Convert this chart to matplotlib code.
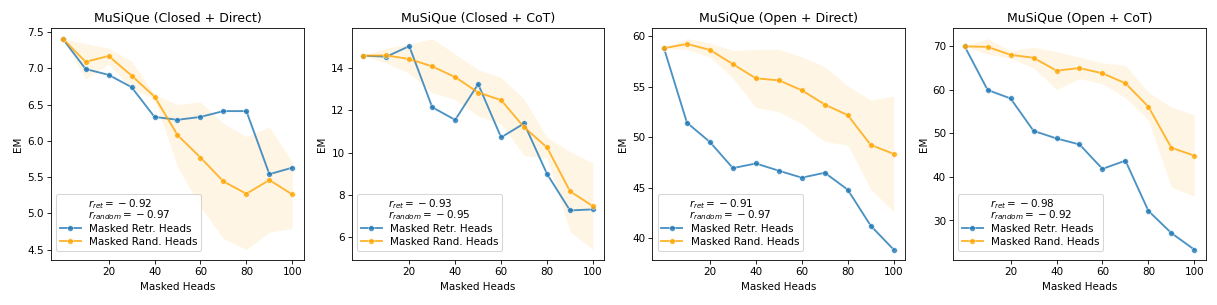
import matplotlib
matplotlib.use("Agg")
import matplotlib.pyplot as plt
import numpy as np

masked_heads = [0, 10, 20, 30, 40, 50, 60, 70, 80, 90, 100]

titles = ["MuSiQue (Closed + Direct)", "MuSiQue (Closed + CoT)",
          "MuSiQue (Open + Direct)", "MuSiQue (Open + CoT)"]

# Panel 1: Closed + Direct
cd_retr = [7.41, 6.99, 6.91, 6.74, 6.33, 6.29, 6.33, 6.41, 6.41, 5.54, 5.63]
cd_rand = [7.41, 7.09, 7.17, 6.90, 6.61, 6.08, 5.77, 5.44, 5.27, 5.46, 5.26]
cd_rand_hi = [7.41, 7.34, 7.28, 7.10, 6.64, 6.50, 6.54, 6.24, 6.06, 6.19, 5.71]
cd_rand_lo = [7.41, 6.85, 7.06, 6.72, 6.58, 5.64, 5.09, 4.65, 4.50, 4.74, 4.79]

# Panel 2: Closed + CoT
cc_retr = [14.60, 14.55, 15.05, 12.15, 11.55, 13.25, 10.72, 11.38, 8.98, 7.25, 7.30]
cc_rand = [14.60, 14.61, 14.44, 14.09, 13.58, 12.85, 12.49, 11.20, 10.24, 8.16, 7.45]
cc_rand_hi = [14.60, 14.97, 15.15, 15.41, 14.67, 13.94, 13.56, 12.54, 10.72, 10.05, 9.50]
cc_rand_lo = [14.60, 14.25, 13.76, 12.84, 12.51, 11.73, 11.35, 9.86, 9.73, 6.25, 5.39]

# Panel 3: Open + Direct
od_retr = [58.82, 51.43, 49.52, 46.93, 47.39, 46.67, 45.98, 46.47, 44.79, 41.22, 38.85]
od_rand = [58.82, 59.24, 58.65, 57.24, 55.83, 55.63, 54.65, 53.23, 52.18, 49.23, 48.34]
od_rand_hi = [58.82, 59.77, 59.34, 58.59, 58.69, 58.72, 57.96, 56.98, 55.07, 53.69, 54.06]
od_rand_lo = [58.82, 58.69, 57.96, 55.83, 52.94, 52.51, 51.33, 49.56, 49.23, 44.83, 42.63]

# Panel 4: Open + CoT
oc_retr = [69.90, 59.90, 57.95, 50.53, 48.79, 47.42, 41.82, 43.71, 32.20, 27.12, 23.33]
oc_rand = [69.90, 69.77, 67.95, 67.27, 64.32, 64.92, 63.71, 61.44, 56.06, 46.67, 44.85]
oc_rand_hi = [69.90, 71.67, 68.86, 69.70, 68.71, 67.42, 66.14, 65.53, 59.39, 55.98, 54.17]
oc_rand_lo = [69.90, 68.10, 67.20, 64.92, 60.00, 62.50, 61.29, 58.10, 52.95, 37.65, 35.53]

r_ret = [-0.92, -0.93, -0.91, -0.98]
r_random = [-0.97, -0.95, -0.97, -0.92]

panels = [
    (cd_retr, cd_rand, cd_rand_hi, cd_rand_lo),
    (cc_retr, cc_rand, cc_rand_hi, cc_rand_lo),
    (od_retr, od_rand, od_rand_hi, od_rand_lo),
    (oc_retr, oc_rand, oc_rand_hi, oc_rand_lo),
]

BLUE = "#1f77b4"
ORANGE = "#FFA500"


def fmt_r(v):
    sign = "-" if v < 0 else "+"
    return f"{{}} {sign} {abs(v):.2f}"


fig, axes = plt.subplots(1, 4, figsize=(16.24, 4.067), dpi=75)

for ax, title, (retr, rand, hi, lo), rr, rd in zip(axes, titles, panels, r_ret, r_random):
    ax.fill_between(masked_heads, lo, hi, color=ORANGE, alpha=0.1, linewidth=0)
    ax.plot(masked_heads, retr, color=BLUE, alpha=0.8, marker="o", markersize=5.5,
            markeredgecolor="white", markeredgewidth=0.5, linewidth=1.8,
            label="Masked Retr. Heads")
    ax.plot(masked_heads, rand, color=ORANGE, alpha=0.8, marker="o", markersize=5.5,
            markeredgecolor="white", markeredgewidth=0.5, linewidth=1.8,
            label="Masked Rand. Heads")
    ax.set_title(title, fontsize=12)
    ax.set_xlabel("Masked Heads", fontsize=10)
    ax.set_ylabel("EM", fontsize=10)
    ax.set_xticks([20, 40, 60, 80, 100])
    ax.tick_params(labelsize=10)
    leg_title = f"$r_{{ret}} = {fmt_r(rr)}$\n$r_{{random}} = {fmt_r(rd)}$"
    leg = ax.legend(loc="lower left", bbox_to_anchor=(0.0, 0.018),
                    title=leg_title, fontsize=10, title_fontsize=10,
                    labelspacing=0.35, borderpad=0.35)
    leg.get_title().set_linespacing(0.75)
    leg._legend_box.sep = 1

axes[0].set_yticks([4.5, 5.0, 5.5, 6.0, 6.5, 7.0, 7.5])
axes[1].set_yticks([6, 8, 10, 12, 14])
axes[2].set_yticks([40, 45, 50, 55, 60])
axes[3].set_yticks([30, 40, 50, 60, 70])

fig.subplots_adjust(left=0.042, right=0.99, top=0.908, bottom=0.147, wspace=0.19)
fig.savefig("out.png", dpi=75)
